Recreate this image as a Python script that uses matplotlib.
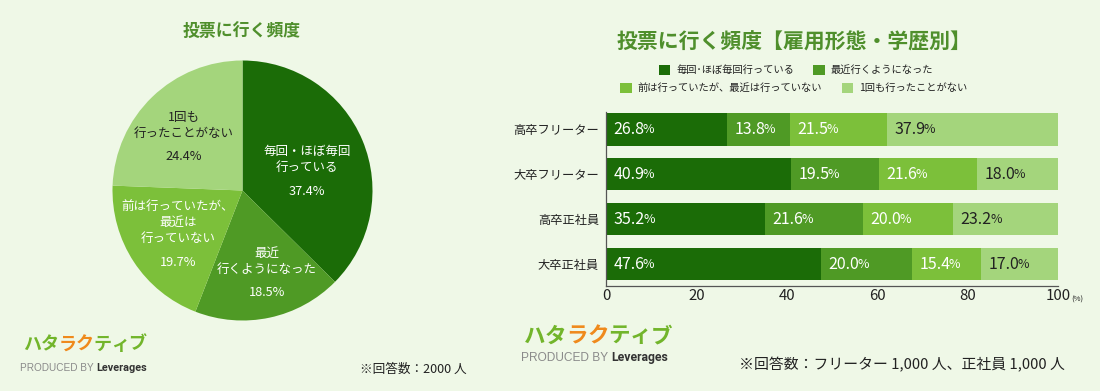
import numpy as np
import matplotlib
matplotlib.use("Agg")
import matplotlib.pyplot as plt
from matplotlib.text import Annotation

plt.rcParams["font.family"] = ["Noto Sans CJK JP", "DejaVu Sans"]

W, H = 1100, 391

BG = "#eff8e7"
COLORS = ["#1b6c07", "#4f9a25", "#7cc03a", "#a4d57c"]
TITLE_GREEN = "#4f8f2c"
DARK = "#222222"
LOGO_GREEN = "#72b52b"
LOGO_ORANGE = "#ef8a1c"

# pie: overall frequency
pie_names = [
    "毎回・ほぼ毎回\n行っている",
    "最近\n行くようになった",
    "前は行っていたが、\n最近は\n行っていない",
    "1回も\n行ったことがない",
]
pie_values = [37.4, 18.5, 19.7, 24.4]

# bars: by employment type / education
groups = ["高卒フリーター", "大卒フリーター", "高卒正社員", "大卒正社員"]
series_names = [
    "毎回･ほぼ毎回行っている",
    "最近行くようになった",
    "前は行っていたが、最近は行っていない",
    "1回も行ったことがない",
]
every_time = [26.8, 40.9, 35.2, 47.6]
recently = [13.8, 19.5, 21.6, 20.0]
used_to = [21.5, 21.6, 20.0, 15.4]
never = [37.9, 18.0, 23.2, 17.0]
x_ticks = [0, 20, 40, 60, 80, 100]

logo_chars = ["ハ", "タ", "ラ", "ク", "テ", "ィ", "ブ"]
logo_colors = [LOGO_GREEN, LOGO_GREEN, LOGO_ORANGE, LOGO_ORANGE, LOGO_GREEN, LOGO_GREEN, LOGO_GREEN]


def fx(px):
    return px / W


def fy(py):
    return (H - py) / H


fig = plt.figure(figsize=(W / 100, H / 100), dpi=100)
fig.patch.set_facecolor(BG)

# ---------------- pie ----------------
cx, cy, r = 242.5, 190.5, 130
ax_pie = fig.add_axes([fx(cx - r), fy(cy + r), 2 * r / W, 2 * r / H])
ax_pie.pie(pie_values, colors=COLORS, startangle=90, counterclock=False,
           wedgeprops=dict(linewidth=0))
ax_pie.set_xlim(-1, 1)
ax_pie.set_ylim(-1, 1)

# label anchors (centre of the percentage line), in pie units
pie_label_pos = [(0.496, -0.004), (0.188, -0.788), (-0.496, -0.55), (-0.45, 0.258)]
pie_text_colors = ["white", "white", "white", DARK]
for name, val, (lx, ly), tc in zip(pie_names, pie_values, pie_label_pos, pie_text_colors):
    ax_pie.text(lx, ly, f"{val:.1f}%", ha="center", va="center", fontsize=9.2, color=tc)
    ax_pie.annotate(name, xy=(lx, ly), xytext=(0, 12), textcoords="offset points",
                    ha="center", va="bottom", fontsize=9, color=tc, linespacing=1.3)

fig.text(fx(242), fy(32), "投票に行く頻度", ha="center", va="center",
         fontsize=12.2, fontweight="bold", color=TITLE_GREEN)

# ---------------- stacked bars ----------------
ax = fig.add_axes([fx(606), fy(286), 452 / W, 174 / H])
ax.set_facecolor("none")
y = np.arange(len(groups))
left = np.zeros(len(groups))
series = [every_time, recently, used_to, never]
label_colors = ["white", "white", "white", DARK]
containers = []
for vals, name, color, tc in zip(series, series_names, COLORS, label_colors):
    vals = np.array(vals)
    bc = ax.barh(y, vals, left=left, height=0.72, color=color, label=name)
    containers.append(bc)
    for yi, l, v in zip(y, left, vals):
        t = ax.annotate(f"{v:.1f}", xy=(l, yi), xytext=(5.5, 0), textcoords="offset points",
                        ha="left", va="center", fontsize=11.5, color=tc)
        ax.annotate("%", xy=(1, 0), xycoords=t, xytext=(-1.2, 1.2), textcoords="offset points",
                    ha="left", va="bottom", fontsize=9, color=tc)
    left += vals

ax.set_xlim(0, 100)
ax.set_ylim(3.49, -0.39)
ax.set_yticks(y, groups)
ax.set_xticks(x_ticks)
ax.tick_params(axis="y", length=0, pad=5, labelsize=8.8, labelcolor=DARK)
ax.tick_params(axis="x", length=0, pad=2, labelsize=10.8, labelcolor=DARK)
for side in ["top", "right"]:
    ax.spines[side].set_visible(False)
for side in ["left", "bottom"]:
    ax.spines[side].set_color("#555555")
    ax.spines[side].set_linewidth(0.9)
ax.annotate("(%)", xy=(1, 0), xycoords="axes fraction", xytext=(9.5, -9.5),
            textcoords="offset points", ha="left", va="center", fontsize=5.5, color=DARK)

fig.text(fx(794), fy(42), "投票に行く頻度【雇用形態・学歴別】", ha="center", va="center",
         fontsize=15, fontweight="bold", color=TITLE_GREEN)

leg_kw = dict(ncol=2, loc="center", frameon=False, fontsize=7.4, handlelength=1.1,
              handleheight=1.1, handletextpad=0.6, columnspacing=1.9, borderpad=0,
              borderaxespad=0, labelcolor=DARK)
fig.legend(handles=containers[:2], bbox_to_anchor=(fx(796), fy(70)), **leg_kw)
fig.legend(handles=containers[2:], bbox_to_anchor=(fx(794), fy(88)), **leg_kw)


# ---------------- logos & notes ----------------
def logo(x, y, size, sub_y, sub_size, lev_size):
    prev = fig.text(fx(x), fy(y), logo_chars[0], color=logo_colors[0], fontsize=size,
                    fontweight="bold", ha="left", va="center")
    for ch, c in zip(logo_chars[1:], logo_colors[1:]):
        prev = fig.add_artist(Annotation(
            ch, xy=(1, 0.5), xycoords=prev, xytext=(-0.3, 0), textcoords="offset points",
            ha="left", va="center", fontsize=size, fontweight="bold", color=c))
    p = fig.text(fx(x - 3), fy(sub_y), "PRODUCED BY ", color="#8a8a8a", fontsize=sub_size,
                 family=["Liberation Sans", "DejaVu Sans"], ha="left", va="center")
    fig.add_artist(Annotation(
        "Leverages", xy=(1, 0.5), xycoords=p, ha="left", va="center",
        fontsize=lev_size, fontweight="bold", color="#333333",
        family=["Roboto", "DejaVu Sans"]))


logo(23, 344, 13, 368, 7.2, 7.8)
logo(524, 336, 15.5, 358, 8.6, 8.8)

fig.text(fx(413), fy(369), "※回答数：2000 人", ha="center", va="center", fontsize=9.1, color=DARK)
fig.text(fx(902), fy(365), "※回答数：フリーター 1,000 人、正社員 1,000 人", ha="center",
         va="center", fontsize=10.7, color=DARK)

fig.savefig("out.png", dpi=100, facecolor=BG)
